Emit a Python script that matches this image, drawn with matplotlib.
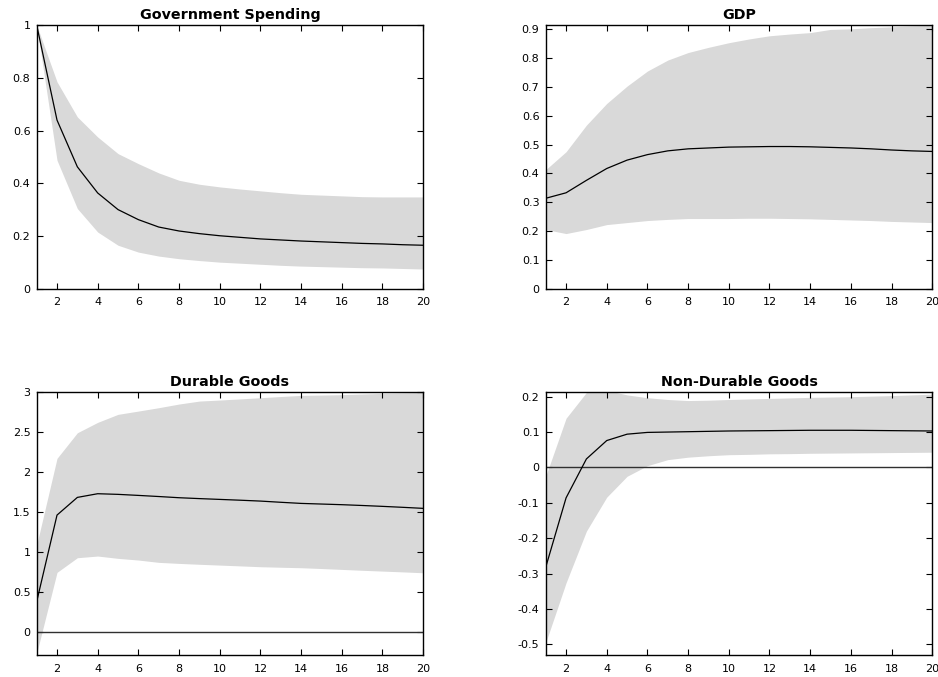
import numpy as np
import matplotlib
matplotlib.use("Agg")
import matplotlib.pyplot as plt

plt.rcParams['font.family'] = ['DejaVu Sans']

horizon = list(range(1, 21))

gov_mean = [1.0, 0.64, 0.463, 0.364, 0.301, 0.263, 0.235, 0.22, 0.21, 0.202, 0.196, 0.19, 0.186, 0.182, 0.179, 0.176, 0.173, 0.171, 0.168, 0.166]
gov_upper = [1.0, 0.785, 0.652, 0.576, 0.513, 0.475, 0.44, 0.412, 0.397, 0.387, 0.379, 0.372, 0.365, 0.359, 0.356, 0.353, 0.35, 0.349, 0.349, 0.349]
gov_lower = [1.0, 0.488, 0.305, 0.216, 0.166, 0.14, 0.125, 0.115, 0.108, 0.102, 0.098, 0.094, 0.09, 0.087, 0.085, 0.083, 0.081, 0.08, 0.078, 0.076]

gdp_mean = [0.314, 0.333, 0.376, 0.417, 0.446, 0.465, 0.478, 0.485, 0.488, 0.491, 0.492, 0.493, 0.493, 0.492, 0.490, 0.488, 0.485, 0.481, 0.478, 0.476]
gdp_upper = [0.413, 0.475, 0.567, 0.642, 0.702, 0.754, 0.792, 0.818, 0.836, 0.852, 0.865, 0.876, 0.882, 0.887, 0.898, 0.900, 0.904, 0.907, 0.910, 0.912]
gdp_lower = [0.206, 0.192, 0.206, 0.223, 0.23, 0.237, 0.241, 0.244, 0.244, 0.244, 0.245, 0.245, 0.244, 0.243, 0.241, 0.239, 0.237, 0.234, 0.232, 0.23]

dur_mean = [0.375, 1.458, 1.679, 1.725, 1.717, 1.704, 1.69, 1.675, 1.664, 1.654, 1.644, 1.633, 1.618, 1.604, 1.596, 1.588, 1.578, 1.567, 1.555, 1.542]
dur_upper = [1.083, 2.167, 2.487, 2.617, 2.717, 2.758, 2.8, 2.846, 2.883, 2.896, 2.91, 2.925, 2.94, 2.954, 2.958, 2.963, 2.971, 2.979, 2.985, 2.992]
dur_lower = [-0.27, 0.742, 0.925, 0.946, 0.917, 0.896, 0.867, 0.854, 0.843, 0.833, 0.823, 0.8125, 0.806, 0.8, 0.79, 0.779, 0.768, 0.758, 0.748, 0.737]

nd_mean = [-0.282, -0.086, 0.024, 0.076, 0.094, 0.099, 0.100, 0.101, 0.102, 0.103, 0.1035, 0.104, 0.1045, 0.105, 0.105, 0.105, 0.1045, 0.104, 0.1035, 0.103]
nd_upper = [-0.025, 0.139, 0.212, 0.218, 0.205, 0.197, 0.192, 0.189, 0.19, 0.192, 0.1935, 0.195, 0.1965, 0.198, 0.199, 0.2, 0.2015, 0.203, 0.205, 0.207]
nd_lower = [-0.495, -0.326, -0.18, -0.084, -0.025, 0.005, 0.022, 0.029, 0.033, 0.036, 0.037, 0.0385, 0.039, 0.04, 0.0405, 0.041, 0.0415, 0.042, 0.0425, 0.043]

titles = ["Government Spending", "GDP", "Durable Goods", "Non-Durable Goods"]

fig = plt.figure(figsize=(9.38, 6.77), dpi=100)
w = 0.412
h = 0.390
positions = [
    [0.0391, 0.573, w, h],
    [0.5818, 0.573, w, 0.3908],
    [0.0391, 0.032, w, 0.3894],
    [0.5818, 0.032, w, 0.3894],
]
panels = [
    (gov_mean, gov_lower, gov_upper, (0, 1), np.arange(0, 1.01, 0.2), ["0", "0.2", "0.4", "0.6", "0.8", "1"], False),
    (gdp_mean, gdp_lower, gdp_upper, (0, 0.915), np.arange(0, 0.91, 0.1), ["0", "0.1", "0.2", "0.3", "0.4", "0.5", "0.6", "0.7", "0.8", "0.9"], False),
    (dur_mean, dur_lower, dur_upper, (-0.295, 3.0), np.arange(0, 3.01, 0.5), ["0", "0.5", "1", "1.5", "2", "2.5", "3"], True),
    (nd_mean, nd_lower, nd_upper, (-0.531, 0.214), np.arange(-0.5, 0.21, 0.1), ["-0.5", "-0.4", "-0.3", "-0.2", "-0.1", "0", "0.1", "0.2"], True),
]

for pos, title, (mean, lo, up, ylim, yt, ytl, zero) in zip(positions, titles, panels):
    ax = fig.add_axes(pos)
    ax.fill_between(horizon, lo, up, color='#d9d9d9', linewidth=0)
    if zero:
        ax.axhline(0, color='#303030', linewidth=1.0)
    ax.plot(horizon, mean, color='black', linewidth=0.9)
    ax.set_xlim(1, 20)
    ax.set_ylim(*ylim)
    ax.set_xticks(range(2, 21, 2))
    ax.set_yticks(yt)
    ax.set_yticklabels(ytl)
    ax.tick_params(direction='in', top=True, right=True, length=4, width=0.8, labelsize=8)
    ax.tick_params(axis='y', pad=4.5)
    ax.tick_params(axis='x', pad=6)
    for s in ax.spines.values():
        s.set_linewidth(1.0)
    ax.set_title(title, fontsize=10.3, fontweight='bold', pad=4)

fig.savefig("out.png", dpi=100)
